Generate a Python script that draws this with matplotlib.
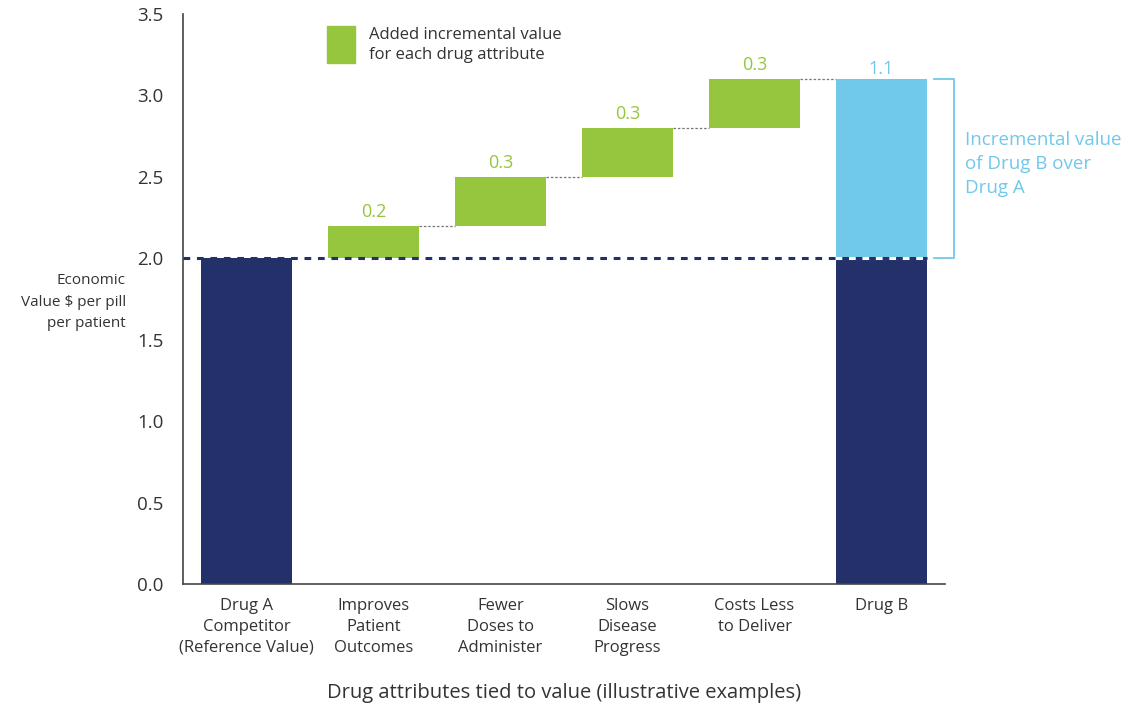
import matplotlib
matplotlib.use("Agg")
import matplotlib.pyplot as plt

plt.rcParams['font.family'] = ['Open Sans', 'DejaVu Sans']

categories = ["Drug A\nCompetitor\n(Reference Value)", "Improves\nPatient\nOutcomes",
              "Fewer\nDoses to\nAdminister", "Slows\nDisease\nProgress",
              "Costs Less\nto Deliver", "Drug B"]
reference_value = 2.0
increments = [0.2, 0.3, 0.3, 0.3]
increment_labels = ["0.2", "0.3", "0.3", "0.3"]
total_increment = 1.1
total_label = "1.1"
yticks = [0.0, 0.5, 1.0, 1.5, 2.0, 2.5, 3.0, 3.5]

NAVY = "#233069"
GREEN = "#95c63d"
LBLUE = "#70c8ea"
TEXT = "#333333"

fig = plt.figure(figsize=(11.34, 7.06), dpi=100)
ax = fig.add_axes([183/1134, 1-584/706, (945-183)/1134, (584-14)/706])
W = 0.72
x = list(range(len(categories)))

# Drug A
ax.bar(x[0], reference_value, width=W, color=NAVY, zorder=2)
# increments
bottoms = []
b = reference_value
for i, inc in enumerate(increments):
    bottoms.append(b)
    ax.bar(x[i+1], inc, bottom=b, width=W, color=GREEN, zorder=2)
    ax.text(x[i+1], b + inc + 0.03, increment_labels[i], ha='center', va='bottom',
            color=GREEN, fontsize=13)
    b += inc
# Drug B
ax.bar(x[5], reference_value, width=W, color=NAVY, zorder=2)
ax.bar(x[5], total_increment, bottom=reference_value, width=W, color=LBLUE, zorder=2)
ax.text(x[5], reference_value + total_increment + 0.01, total_label, ha='center', va='bottom',
        color=LBLUE, fontsize=13)

# connectors
tops = [bottoms[i] + increments[i] for i in range(len(increments))]
for i in range(len(increments)):
    x0 = x[i+1] + W/2
    x1 = x[i+2] - W/2
    ax.plot([x0, x1], [tops[i], tops[i]], color="#777777", lw=0.9, ls=(0, (2, 1.5)), zorder=1)

# reference dashed line
ax.plot([x[5]-W/2, x[5]+W/2], [reference_value]*2, color='white', lw=2.2, zorder=3)
ax.plot([-0.5, x[5]+W/2], [reference_value]*2, color=NAVY, lw=2.2, ls=(0, (2.2, 2.2)), zorder=4)

# bracket
top = reference_value + total_increment
bx0 = x[5] + W/2 + 0.05
bx1 = bx0 + 0.16
ax.plot([bx0, bx1, bx1, bx0], [top, top, reference_value, reference_value],
        color=LBLUE, lw=1.3, clip_on=False)
ax.text(bx1 + 0.09, 2.58, "Incremental value\nof Drug B over\nDrug A", color=LBLUE,
        fontsize=13.5, ha='left', va='center', linespacing=1.42)

ax.set_xlim(-0.5, 5.5)
ax.set_ylim(0, 3.5)
ax.set_yticks(yticks)
ax.set_yticklabels([f"{v:.1f}" for v in yticks], fontsize=13.5, color=TEXT)
ax.set_xticks(x)
ax.set_xticklabels(categories, fontsize=12, color=TEXT, linespacing=1.42, va='top')
ax.tick_params(axis='both', length=0)
ax.tick_params(axis='y', pad=14)
ax.tick_params(axis='x', pad=10)
for s in ['top', 'right']:
    ax.spines[s].set_visible(False)
for s in ['left', 'bottom']:
    ax.spines[s].set_color('#444444')
    ax.spines[s].set_linewidth(1.2)

# legend
fig.patches.append(plt.Rectangle((327/1134, 1-63/706), 28/1134, 37/706,
                                 transform=fig.transFigure, color=GREEN))
fig.text(369/1134, 1-45/706, "Added incremental value\nfor each drug attribute",
         fontsize=12, color=TEXT, va='center', ha='left', linespacing=1.32)

# y label
fig.text(126/1134, 1-302/706, "Economic\nValue $ per pill\nper patient", fontsize=11,
         color=TEXT, ha='right', va='center', linespacing=1.62)

# x label
fig.text(564/1134, 1-693/706, "Drug attributes tied to value (illustrative examples)",
         fontsize=14.5, color=TEXT, ha='center', va='center')

fig.savefig("out.png", dpi=100)
